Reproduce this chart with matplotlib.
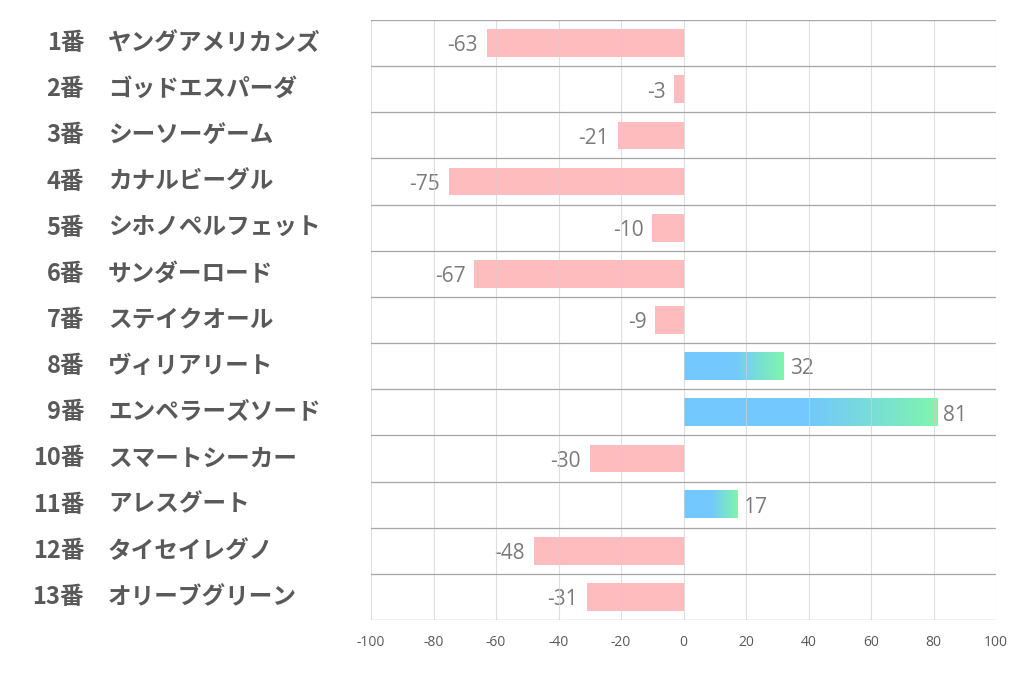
import numpy as np
import matplotlib.pyplot as plt
from matplotlib.colors import LinearSegmentedColormap

plt.rcParams['font.family'] = ['Noto Sans CJK JP', 'DejaVu Sans']

# Data
numbers = ['1番', '2番', '3番', '4番', '5番', '6番', '7番', '8番', '9番', '10番', '11番', '12番', '13番']
horses = ['ヤングアメリカンズ', 'ゴッドエスパーダ', 'シーソーゲーム', 'カナルビーグル', 'シホノペルフェット',
          'サンダーロード', 'ステイクオール', 'ヴィリアリート', 'エンペラーズソード', 'スマートシーカー',
          'アレスグート', 'タイセイレグノ', 'オリーブグリーン']
values = [-63, -3, -21, -75, -10, -67, -9, 32, 81, -30, 17, -48, -31]
xticks = [-100, -80, -60, -40, -20, 0, 20, 40, 60, 80, 100]

fig = plt.figure(figsize=(10.22, 6.78), dpi=100)
ax = fig.add_axes([371/1022, 58/678, 625/1022, 600/678])

n = len(values)
h = 0.6

cmap = LinearSegmentedColormap.from_list('bg', [(0, '#73c8fd'), (0.5, '#73c8fd'), (1, '#7ff5ad')])
grad = np.linspace(0, 1, 256).reshape(1, -1)

for i, v in enumerate(values):
    if v < 0:
        ax.barh(i, v, height=h, color='#ffbcbe', zorder=2)
        ax.text(v - 2.8, i + 0.06, str(v), ha='right', va='center', fontsize=15,
                color='#7a7a7a', family='Open Sans')
    else:
        ax.imshow(grad, cmap=cmap, aspect='auto', extent=(0, v, i + h / 2, i - h / 2), zorder=2)
        ax.text(v + 2.2, i + 0.06, str(v), ha='left', va='center', fontsize=15,
                color='#7a7a7a', family='Open Sans')

# grid lines
for xv in xticks:
    ax.axvline(xv, color='#d0d0d0', lw=0.8, zorder=3, alpha=0.7)
for k in range(n + 1):
    ax.axhline(k - 0.5, color='#a6a6a6', lw=0.9, zorder=4)

ax.set_xlim(-100, 100)
ax.set_ylim(n - 0.5, -0.5)
ax.set_xticks(xticks)
ax.set_xticklabels([str(t) for t in xticks], fontsize=10, color='#595959', family='Open Sans')
ax.set_yticks([])
ax.tick_params(axis='x', length=0, pad=11)
for s in ax.spines.values():
    s.set_visible(False)

# left labels
for i in range(n):
    ax.text(-0.459, i, numbers[i], transform=ax.get_yaxis_transform(), ha='right', va='center',
            fontsize=17, fontweight='bold', color='#595959')
    ax.text(-0.4208, i, horses[i], transform=ax.get_yaxis_transform(), ha='left', va='center',
            fontsize=17, fontweight='bold', color='#595959')

fig.savefig('out.png', dpi=100)
